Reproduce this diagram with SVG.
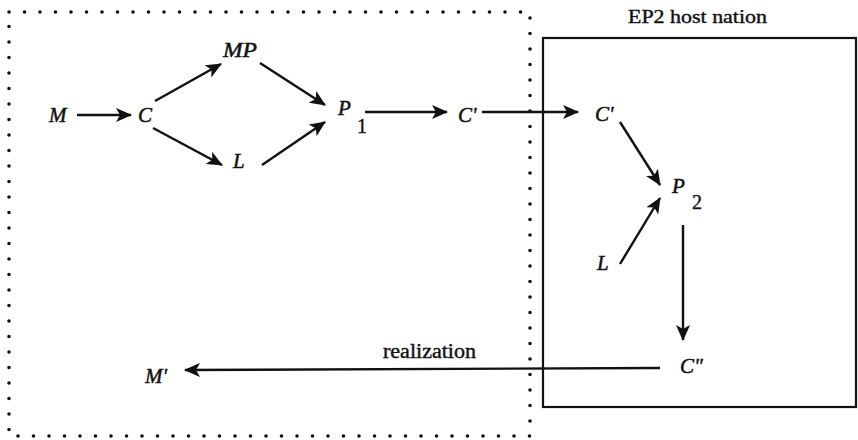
<svg xmlns="http://www.w3.org/2000/svg" width="858" height="440" viewBox="0 0 858 440">
<style>
.n{font-style:italic;font-size:21px;fill:#111;stroke:#111;stroke-width:0.5}
.s{font-size:20px;fill:#111;stroke:#111;stroke-width:0.4}
.lbl{font-size:19px;fill:#111;stroke:#111;stroke-width:0.4}
.c{stroke:#111;stroke-width:2.4;fill:none;marker-end:url(#ah)}
</style>
<defs>
<marker id="ah" markerUnits="userSpaceOnUse" markerWidth="16" markerHeight="14" viewBox="0 0 16 14" refX="15" refY="7" orient="auto">
<path d="M0,0 L16,7 L0,14 L4,7 Z" fill="#111"/>
</marker>
</defs>
<rect width="858" height="440" fill="#fff"/>
<g font-family="Liberation Serif, Times New Roman, serif">
<g id="boundary-home">
<rect x="9" y="12" width="521" height="424" fill="none" stroke="#111" stroke-width="3.6" stroke-linecap="round" stroke-dasharray="0 15.5"/>
</g>
<g id="boundary-host">
<rect x="543" y="38" width="313" height="369" fill="none" stroke="#111" stroke-width="2.2"/>
<text class="lbl" x="628" y="23" textLength="139" lengthAdjust="spacingAndGlyphs">EP2 host nation</text>
</g>
<g id="connectors">
<line class="c" x1="77" y1="115" x2="131" y2="115"/>
<line class="c" x1="155" y1="101" x2="221" y2="64"/>
<line class="c" x1="260" y1="63" x2="325" y2="105"/>
<line class="c" x1="153" y1="128" x2="222" y2="165"/>
<line class="c" x1="262" y1="165" x2="325" y2="122"/>
<line class="c" x1="365" y1="112" x2="447" y2="112"/>
<line class="c" x1="482" y1="112" x2="578" y2="112"/>
<line class="c" x1="620" y1="122" x2="660" y2="185"/>
<line class="c" x1="620" y1="264" x2="660" y2="198"/>
<line class="c" x1="683" y1="225" x2="683" y2="340"/>
<line class="c" x1="660" y1="368" x2="185" y2="370"/>
<text class="s" x="383" y="358" textLength="93" lengthAdjust="spacingAndGlyphs">realization</text>
</g>
<g id="node-M"><text class="n" x="49" y="122">M</text></g>
<g id="node-C"><text class="n" x="138" y="122">C</text></g>
<g id="node-MP"><text class="n" x="223" y="57" textLength="34" lengthAdjust="spacingAndGlyphs">MP</text></g>
<g id="node-L1"><text class="n" x="233" y="168">L</text></g>
<g id="node-P1"><text class="n" x="338" y="115">P</text><text class="s" x="357" y="133">1</text></g>
<g id="node-C1a"><text class="n" x="458" y="122">C'</text></g>
<g id="node-C1b"><text class="n" x="595" y="121">C'</text></g>
<g id="node-P2"><text class="n" x="672" y="193">P</text><text class="s" x="692" y="209">2</text></g>
<g id="node-L2"><text class="n" x="597" y="270">L</text></g>
<g id="node-C2"><text class="n" x="680" y="373">C"</text></g>
<g id="node-M2"><text class="n" x="145" y="383">M'</text></g>
</g>
</svg>
